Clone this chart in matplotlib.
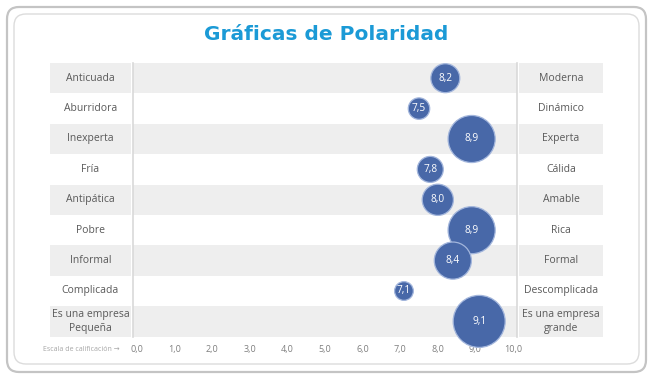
import numpy as np
import matplotlib.pyplot as plt
from matplotlib.patches import FancyBboxPatch
from matplotlib.transforms import IdentityTransform

left_labels = ["Anticuada", "Aburridora", "Inexperta", "Fría", "Antipática",
               "Pobre", "Informal", "Complicada", "Es una empresa\nPequeña"]
right_labels = ["Moderna", "Dinámico", "Experta", "Cálida", "Amable",
                "Rica", "Formal", "Descomplicada", "Es una empresa\ngrande"]
scores = [8.2, 7.5, 8.9, 7.8, 8.0, 8.9, 8.4, 7.1, 9.1]
# relative bubble size (area)
bubble_size = [0.31, 0.17, 0.82, 0.25, 0.36, 0.82, 0.51, 0.13, 1.00]
ticks = np.arange(0, 11, 1)

W, H = 653, 379
fig = plt.figure(figsize=(W / 100, H / 100), dpi=100)

def fx(px):
    return px / W

def fy(py):
    return 1 - py / H

# rounded frame (pixel coords)
for (x0, y0, x1, y1), col, lw in [((7, 7, 646, 372), "#c4c4c4", 1.6),
                                   ((14, 14, 639, 364), "#dcdcdc", 1.0)]:
    fig.patches.append(FancyBboxPatch((x0, H - y1), x1 - x0, y1 - y0,
                                      boxstyle="round,pad=0,rounding_size=12",
                                      transform=IdentityTransform(),
                                      facecolor="none",
                                      edgecolor=col, linewidth=lw, zorder=-5))

fig.text(0.5, fy(34), "Gráficas de Polaridad", ha="center", va="center",
         fontsize=14.5, fontweight="bold", color="#1b9ad6", family="DejaVu Sans")

top, bottom = 63, 336.6
n = len(scores)
band = "#eeeeee"
lab_font = dict(fontsize=7.5, color="#595959", family="Open Sans",
                ha="center", va="center", linespacing=1.45)

def side_axes(x0, x1):
    a = fig.add_axes([fx(x0), fy(bottom), fx(x1 - x0), (bottom - top) / H])
    a.set_xlim(0, 1)
    a.set_ylim(n - 0.5, -0.5)
    a.axis("off")
    for i in range(0, n, 2):
        a.axhspan(i - 0.5, i + 0.5, color=band, lw=0)
    return a

axl = side_axes(50, 131)
axr = side_axes(519, 603)
for i in range(n):
    axl.text(0.5, i, left_labels[i], **lab_font)
    axr.text(0.5, i, right_labels[i], **lab_font)

ax = fig.add_axes([fx(133), fy(bottom), fx(517 - 133), (bottom - top) / H])
ax.patch.set_alpha(0)
pad = 4 / 37.6
ax.set_xlim(-pad, 10 + pad)
ax.set_ylim(n - 0.5, -0.5)
for i in range(0, n, 2):
    ax.axhspan(i - 0.5, i + 0.5, color=band, lw=0, zorder=0)
for s in ["top", "bottom"]:
    ax.spines[s].set_visible(False)
for s in ["left", "right"]:
    ax.spines[s].set_color("#d9d9d9")
    ax.spines[s].set_linewidth(1.2)
ax.set_yticks([])
ax.set_xticks(ticks)
ax.set_xticklabels([f"{t:.1f}".replace(".", ",") for t in ticks],
                   fontsize=6.5, color="#7f7f7f", family="Open Sans")
ax.tick_params(axis="x", length=0, pad=6)

rows = np.arange(n)
radius_px = 26 * np.sqrt(bubble_size)
sizes = (2 * radius_px * 0.72) ** 2
ax.scatter(scores, rows, s=sizes, color="#4868a8", edgecolor="#a3b6dc",
           linewidth=0.9, zorder=3, clip_on=False)
for v, r in zip(scores, rows):
    ax.text(v, r, f"{v:.1f}".replace(".", ","), ha="center", va="center",
            fontsize=7.3, color="white", family="Open Sans", zorder=4)

fig.text(fx(120), fy(349.5), "Escala de calificación →", ha="right", va="center",
         fontsize=5, color="#a6a6a6", family=["Open Sans", "DejaVu Sans"])

fig.savefig("out.png", dpi=100)
